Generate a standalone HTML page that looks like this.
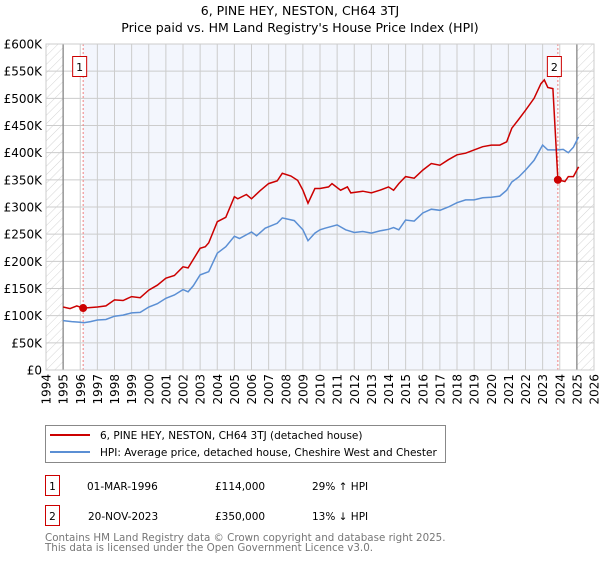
<!DOCTYPE html>
<html><head><meta charset="utf-8"><style>
body{margin:0;background:#fff;font-family:"DejaVu Sans","Liberation Sans",sans-serif;}
svg text{font-family:"DejaVu Sans","Liberation Sans",sans-serif;}
</style></head><body>
<svg id="chart" width="600" height="560" viewBox="0 0 600 560" xmlns="http://www.w3.org/2000/svg">
<defs><pattern id="hatch" width="6" height="6" patternUnits="userSpaceOnUse" patternTransform="rotate(45)"><line x1="0" y1="0" x2="0" y2="6" stroke="#d4d4d4" stroke-width="1"/></pattern></defs>
<text x="300" y="15" text-anchor="middle" font-size="12.5">6, PINE HEY, NESTON, CH64 3TJ</text>
<text x="300" y="32" text-anchor="middle" font-size="12.5">Price paid vs. HM Land Registry's House Price Index (HPI)</text>
<g id="plot"></g>
<g>
<rect x="45.5" y="425.5" width="400" height="37" fill="#fff" stroke="#888"/>
<line x1="50" y1="435" x2="90" y2="435" stroke="#cc0000" stroke-width="2"/>
<text x="100" y="439" font-size="10.5">6, PINE HEY, NESTON, CH64 3TJ (detached house)</text>
<line x1="50" y1="452" x2="90" y2="452" stroke="#5b8fd4" stroke-width="2"/>
<text x="100" y="456" font-size="10.5">HPI: Average price, detached house, Cheshire West and Chester</text>
</g>
<g font-size="10.5">
<rect x="45.5" y="475.5" width="14" height="20" fill="#fff" stroke="#cc0000"/>
<text x="52.5" y="490" text-anchor="middle">1</text>
<text x="87" y="490">01-MAR-1996</text><text x="215" y="490">£114,000</text><text x="312" y="490">29% ↑ HPI</text>
<rect x="45.5" y="505.5" width="14" height="20" fill="#fff" stroke="#cc0000"/>
<text x="52.5" y="520" text-anchor="middle">2</text>
<text x="88" y="520">20-NOV-2023</text><text x="215" y="520">£350,000</text><text x="312" y="520">13% ↓ HPI</text>
</g>
<text x="45" y="541" font-size="10.3" fill="#777">Contains HM Land Registry data © Crown copyright and database right 2025.</text>
<text x="45" y="551" font-size="10.3" fill="#777">This data is licensed under the Open Government Licence v3.0.</text>
</svg>
<script>
const hpiYears=[1995,1995.5,1996,1996.2,1996.6,1997,1997.5,1998,1998.5,1999,1999.5,2000,2000.5,2001,2001.5,2002,2002.3,2002.6,2003,2003.5,2004,2004.5,2005,2005.3,2006,2006.3,2006.8,2007.5,2007.8,2008.5,2009,2009.3,2009.7,2010,2010.3,2011,2011.5,2012,2012.5,2013,2013.5,2014,2014.3,2014.6,2015,2015.5,2016,2016.5,2017,2017.5,2018,2018.5,2019,2019.5,2020,2020.5,2020.9,2021.2,2021.6,2022,2022.5,2023,2023.3,2023.9,2024.2,2024.5,2024.8,2025.1];
const hpiValues=[91,89,88,87,89,92,93,99,101,105,106,116,122,132,138,148,144,155,175,181,215,227,246,242,254,247,261,270,280,275,258,238,252,258,261,267,258,253,255,252,256,259,262,258,276,274,289,296,294,300,308,313,313,317,318,320,331,346,355,368,386,414,405,405,406,400,410,429];
const priceYears=[1995,1995.4,1995.8,1996.17,1997,1997.5,1998,1998.5,1999,1999.5,2000,2000.5,2001,2001.5,2002,2002.3,2003,2003.3,2003.5,2004,2004.5,2005,2005.2,2005.7,2006,2006.5,2007,2007.5,2007.8,2008.3,2008.7,2009,2009.3,2009.7,2010,2010.5,2010.7,2011.2,2011.6,2011.8,2012.5,2013,2013.5,2014,2014.3,2014.6,2015,2015.5,2016,2016.5,2017,2017.5,2018,2018.5,2019,2019.5,2020,2020.5,2020.9,2021.2,2021.6,2022,2022.5,2022.9,2023.1,2023.3,2023.6,2023.89,2024.3,2024.5,2024.8,2025.1];
const priceValues=[116,113,118,114,116,118,129,128,135,133,147,156,169,174,190,188,224,227,234,273,281,319,315,323,315,330,343,348,362,357,349,331,307,334,334,337,343,331,337,326,329,326,331,337,331,343,356,353,368,380,377,387,396,399,405,411,414,414,420,445,461,478,500,527,534,520,518,350,347,356,356,374];
const saleYears=[1996.17,2023.89];
const saleValues=[114,350];
const saleLabels=["1","2"];
const yTicks=[0,50,100,150,200,250,300,350,400,450,500,550,600];
const yTickLabels=["£0","£50K","£100K","£150K","£200K","£250K","£300K","£350K","£400K","£450K","£500K","£550K","£600K"];
const xTicks=[1994,1995,1996,1997,1998,1999,2000,2001,2002,2003,2004,2005,2006,2007,2008,2009,2010,2011,2012,2013,2014,2015,2016,2017,2018,2019,2020,2021,2022,2023,2024,2025,2026];

const X0=46,X1=594,Y0=370,Y1=44;
const xs=y=>X0+(y-1994)/(2026-1994)*(X1-X0);
const ys=v=>Y0-v/600*(Y0-Y1);
const NS="http://www.w3.org/2000/svg";
const plot=document.getElementById('plot');
function mk(t,a,p){const e=document.createElementNS(NS,t);for(const k in a)e.setAttribute(k,a[k]);(p||plot).appendChild(e);return e;}

const bg=mk('rect',{x:X0,y:Y1,width:X1-X0,height:Y0-Y1,fill:'#fff'});


const sh=mk('rect',{x:xs(saleYears[0]),y:Y1,width:xs(saleYears[1])-xs(saleYears[0]),height:Y0-Y1,fill:'#f3f6fd'});


const h1=mk('rect',{x:X0,y:Y1,width:xs(1995)-X0,height:Y0-Y1,fill:'url(#hatch)'});


const h2=mk('rect',{x:xs(2025),y:Y1,width:X1-xs(2025),height:Y0-Y1,fill:'url(#hatch)'});



yTicks.forEach((v,i)=>{
 const g=mk('line',{x1:X0,x2:X1,y1:ys(v),y2:ys(v),stroke:'#ccc','stroke-width':1});
 
 
 const t=mk('text',{x:X0-4,y:ys(v)+4.5,'text-anchor':'end','font-size':12});
 
 
 t.textContent=yTickLabels[i];
});
xTicks.forEach(yr=>{
 const g=mk('line',{x1:xs(yr),x2:xs(yr),y1:Y1,y2:Y0,stroke:'#ccc','stroke-width':1});
 
 
 const t=mk('text',{x:0,y:0,'text-anchor':'end','font-size':12,transform:`translate(${xs(yr)+4.5},${Y0+4}) rotate(-90)`});
 
 
 t.textContent=yr;
});
[1995,2025].forEach(yr=>{
 const l=mk('line',{x1:xs(yr),x2:xs(yr),y1:Y1,y2:Y0,stroke:'#888','stroke-width':1.3});
 
 
});
saleYears.forEach(yr=>{
 const l=mk('line',{x1:xs(yr),x2:xs(yr),y1:Y1,y2:Y0,stroke:'#f08080','stroke-width':1,'stroke-dasharray':'2,2'});
 
 
});
const pts=(xa,va)=>xa.map((y,i)=>xs(y).toFixed(1)+','+ys(va[i]).toFixed(1)).join(' ');
const hl=mk('polyline',{points:pts(hpiYears,hpiValues),fill:'none',stroke:'#5b8fd4','stroke-width':1.5});


const pl=mk('polyline',{points:pts(priceYears,priceValues),fill:'none',stroke:'#cc0000','stroke-width':1.5});


saleYears.forEach((yr,i)=>{
 const c=mk('circle',{cx:xs(yr),cy:ys(saleValues[i]),r:4,fill:'#cc0000'});
 
 
 const b=mk('rect',{x:xs(yr)-10.5,y:56.5,width:14,height:20,fill:'#fff',stroke:'#cc0000'});
 
 
 const t=mk('text',{x:xs(yr)-3.5,y:71,'text-anchor':'middle','font-size':11});
 
 
 t.textContent=saleLabels[i];
});
const fr=mk('rect',{x:X0,y:Y1,width:X1-X0,height:Y0-Y1,fill:'none',stroke:'#ccc'});


</script>
</body></html>
